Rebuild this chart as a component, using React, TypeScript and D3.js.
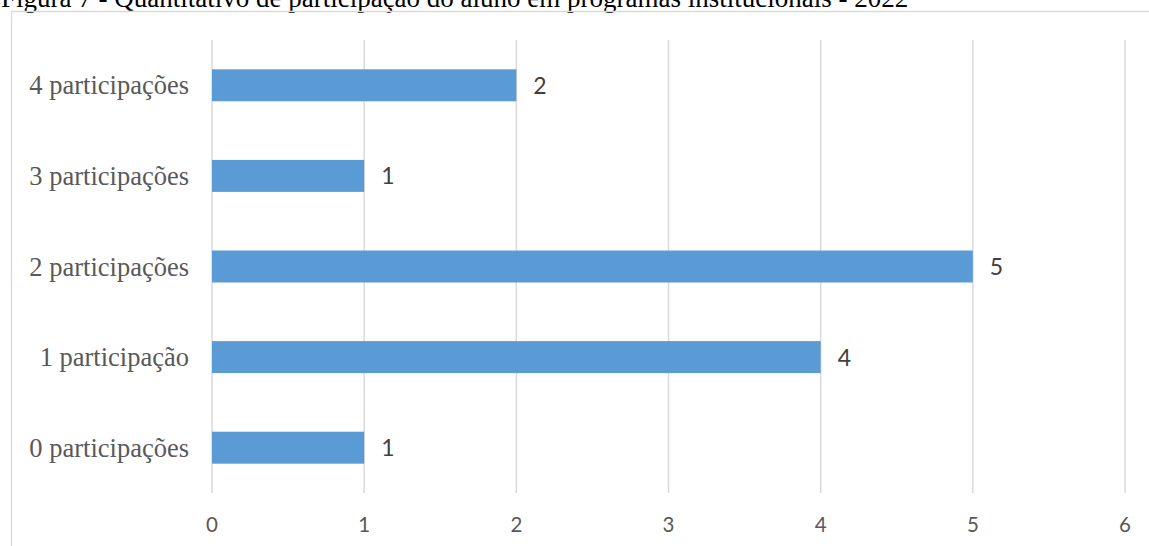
import React from "react";
import * as d3 from "d3";

const categories = ["4 participações", "3 participações", "2 participações", "1 participação", "0 participações"];
const values = [2, 1, 5, 4, 1];
const xTicks = [0, 1, 2, 3, 4, 5, 6];
const title = "Figura 7 - Quantitativo de participação do aluno em programas institucionais - 2022";

const W = 1149;
const H = 546;

export default function App() {
  const x = d3.scaleLinear().domain([0, 6]).range([212, 1125]);
  const y = d3.scaleBand<string>().domain(categories).range([40, 493]).paddingInner(0.647).paddingOuter(0.3235);
  const serif = "'Liberation Serif', 'Times New Roman', serif";
  const sans = "Lato, 'Open Sans', sans-serif";
  return (
    <svg width={W} height={H} style={{ position: "absolute", left: 0, top: 0, background: "#fff" }}>
      <rect x={0} y={0} width={W} height={H} fill="#fff" />
      <text x={1} y={7} fontFamily={serif} fontSize={27} fill="#000">{title}</text>
      <path d={`M11.5,${H + 5} V11.5 H${W + 5}`} fill="none" stroke="#d9d9d9" strokeWidth={1.3} />
      {xTicks.map((t) => (
        <g key={t}>
          <line x1={x(t)} x2={x(t)} y1={40} y2={493} stroke="#d9d9d9" strokeWidth={1.5} />
          <text x={x(t)} y={532} textAnchor="middle" fontFamily={sans} fontSize={20.5} fill="#595959">{t}</text>
        </g>
      ))}
      {categories.map((c, i) => {
        const yc = (y(c) as number) + y.bandwidth() / 2;
        return (
          <g key={c}>
            <rect x={x(0)} y={y(c)} width={x(values[i]) - x(0)} height={y.bandwidth()} fill="#5b9bd5" />
            <text x={189} y={yc + 9} textAnchor="end" fontFamily={serif} fontSize={26.5} fill="#595959">{c}</text>
            <text x={x(values[i]) + 17} y={yc + 8.5} fontFamily={sans} fontSize={23} fill="#404040">{values[i]}</text>
          </g>
        );
      })}
    </svg>
  );
}
